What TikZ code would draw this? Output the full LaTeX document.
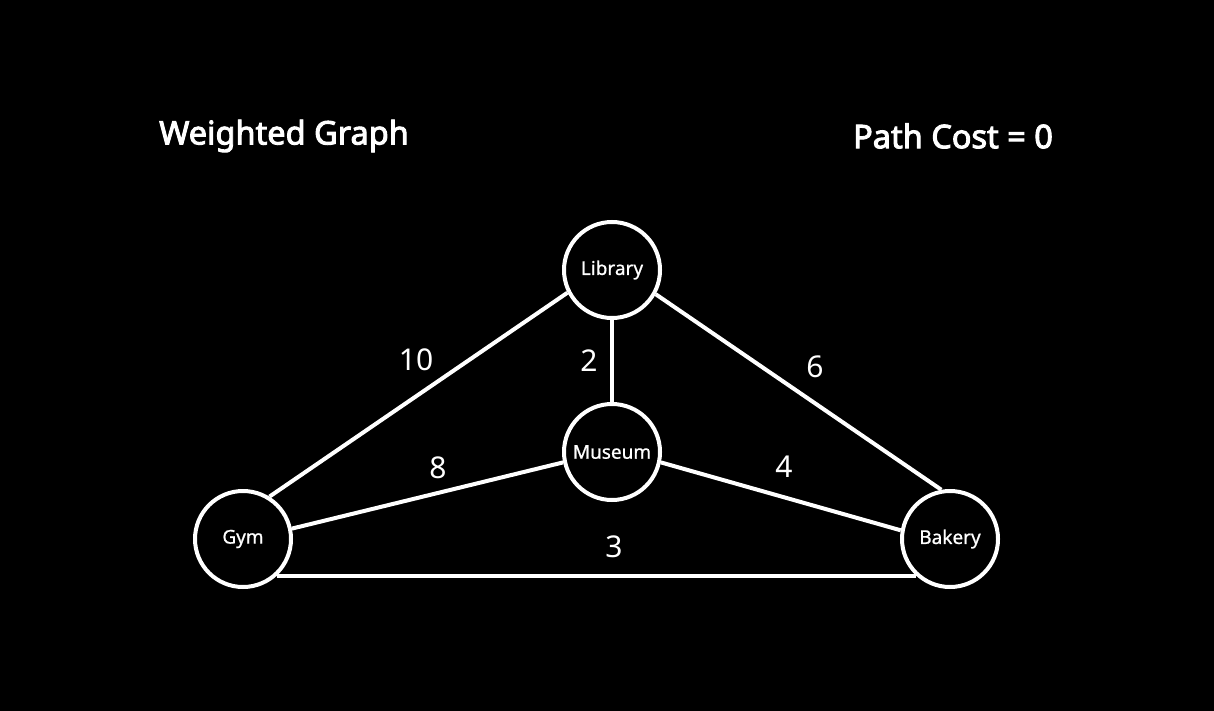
\documentclass[tikz,border=0pt]{standalone}
\usepackage{fontspec}
\setmainfont{Noto Sans}[AutoFakeBold=3]
\newfontfamily\tagfont{Noto Sans}[FakeBold=0.8]
\usetikzlibrary{positioning}
\tikzset{
  place/.style = {circle, draw=white, line width=4pt, minimum size=96pt,
                  inner sep=0pt, text=white, font=\tagfont\fontsize{19}{21}\selectfont},
  road/.style  = {draw=white, line width=4pt},
  cost/.style  = {text=white, font=\fontsize{30}{32}\selectfont},
  title/.style = {text=white, font=\bfseries\fontsize{32.5}{36}\selectfont}
}

\begin{document}
\begin{tikzpicture}[x=1pt,y=-1pt]
  \fill[black] (0,0) rectangle (1214,711);
  \useasboundingbox (0,0) rectangle (1214,711);
  \node[title] (head) at (284,136) {Weighted Graph};
  \node[title] (score) at (953,136) {Path Cost = 0};
  \node[place] (Library) at (612,270) {Library};
  \node[place] (Museum)  at (612,452) {Museum};
  \node[place] (Gym)     at (243,539) {Gym};
  \node[place] (Bakery)  at (950,539) {Bakery};
  \path[road] (Gym.58) -- (Library.207);
  \path[road] (Library.south) -- (Museum.north);
  \path[road] (Library.-29) -- (Bakery.100);
  \path[road] (Gym.12) -- (Museum.192);
  \path[road] (Museum.-12) -- (Bakery.170);
  \path[road] (Gym.-47) -- (Bakery.-133);
  % weights
  \node[cost] (w10) at (416,360) {10};
  \node[cost] (w2)  at (589,361) {2};
  \node[cost] (w6)  at (815,367) {6};
  \node[cost] (w8)  at (438,468) {8};
  \node[cost] (w4)  at (784,467) {4};
  \node[cost] (w3)  at (614,547) {3};
\end{tikzpicture}
\end{document}
